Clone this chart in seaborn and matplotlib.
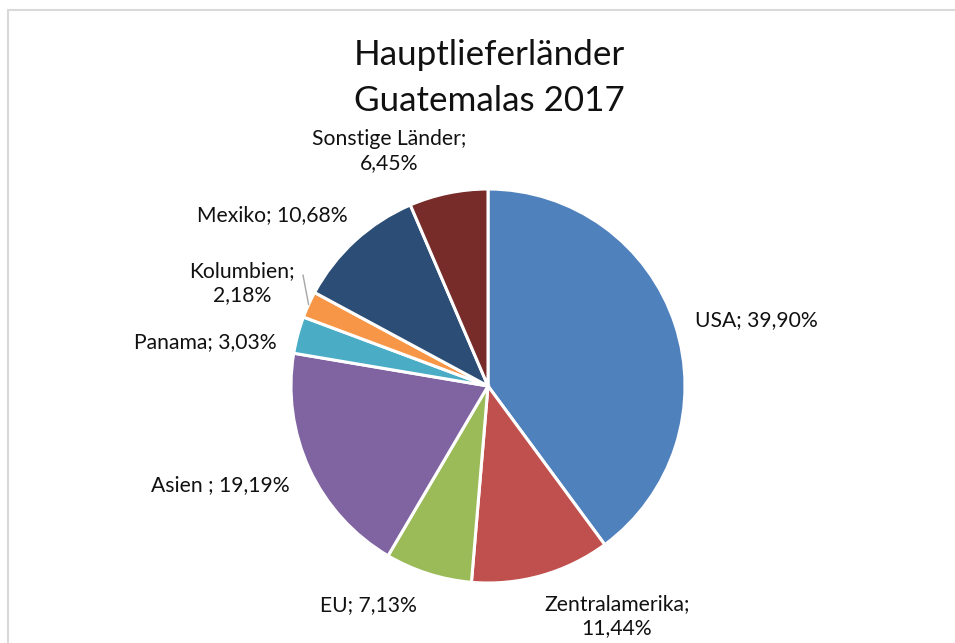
import numpy as np
import matplotlib
matplotlib.use("Agg")
import matplotlib.pyplot as plt
from matplotlib.patches import Rectangle
import seaborn as sns

# Import shares by supplier region, 2017 (percent)
countries = ["USA", "Zentralamerika", "EU", "Asien ", "Panama", "Kolumbien", "Mexiko", "Sonstige Länder"]
shares = [39.90, 11.44, 7.13, 19.19, 3.03, 2.18, 10.68, 6.45]
colors = ["#4F81BD", "#C0504D", "#9BBB59", "#8064A2", "#4BACC6", "#F79646", "#2C4D75", "#772C2A"]
title_lines = ["Hauptlieferländer", "Guatemalas 2017"]

sns.set_theme(style="white")
plt.rcParams["font.family"] = ["Lato", "DejaVu Sans"]

W, H, DPI = 955, 643, 100
fig = plt.figure(figsize=(W / DPI, H / DPI), dpi=DPI)
fig.patch.set_facecolor("white")

# pie centre and radius in pixels
cx, cy, R = 488, 386, 197
ax = fig.add_axes([0, 0, 1, 1])
ax.set_aspect("equal")
ax.axis("off")

wedges, _ = ax.pie(shares, colors=colors, startangle=90, counterclock=False,
                   radius=1.0, center=(0, 0),
                   wedgeprops=dict(edgecolor="white", linewidth=2.2))
ax.set_xlim(-cx / R, (W - cx) / R)
ax.set_ylim(-(H - cy) / R, cy / R)


def fmt(v):
    return f"{v:.2f}".replace(".", ",") + "%"


def px(x, y):
    return (x - cx) / R, (cy - y) / R


# label anchors (pixel positions) with alignment and line-break choice
label_layout = [
    ((695, 320), "left", False),
    ((617, 616), "center", True),
    ((368, 605), "center", False),
    ((290, 485), "right", False),
    ((277, 342), "right", False),
    ((242, 283), "center", True),
    ((272, 215), "center", False),
    ((389, 151), "center", True),
]

fs = 15.2
for name, val, (pos, ha, wrap) in zip(countries, shares, label_layout):
    sep = "\n" if wrap else " "
    txt = f"{name};{sep}{fmt(val)}"
    ax.text(*px(*pos), txt, ha=ha, va="center", fontsize=fs, color="#111111",
            linespacing=1.27, multialignment="center")

# leader line for the small Kolumbien slice
cum = np.cumsum([0] + shares)
k = countries.index("Kolumbien")
mid = np.deg2rad(90 - (cum[k] + shares[k] / 2) * 3.6)
x0, y0 = np.cos(mid) * 1.0, np.sin(mid) * 1.0
x1, y1 = px(303, 275)
ax.plot([x0, x1], [y0, y1], color="#A6A6A6", lw=1.0)

fig.text(489 / W, 1 - 55 / H, title_lines[0], ha="center", va="center",
         fontsize=25.2, color="#111111")
fig.text(489 / W, 1 - 101 / H, title_lines[1], ha="center", va="center",
         fontsize=25.2, color="#111111")

# chart area frame
fig.patches.append(Rectangle((8 / W, -0.1), 1.2, 1.1 - 10 / H,
                             transform=fig.transFigure, fill=False,
                             edgecolor="#D9D9D9", lw=1.5))

fig.savefig("out.png", dpi=DPI, facecolor="white")
